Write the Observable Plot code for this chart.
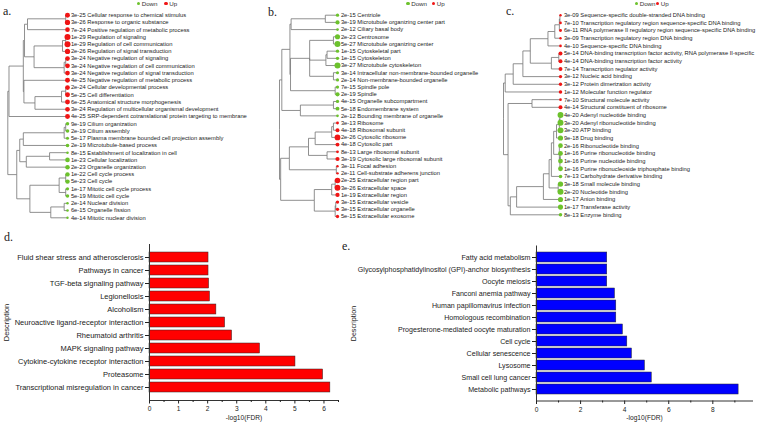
<!DOCTYPE html>
<html><head><meta charset="utf-8">
<script src="https://cdn.jsdelivr.net/npm/d3@7"></script>
<script src="https://cdn.jsdelivr.net/npm/@observablehq/plot@0.6"></script>
<style>
body{margin:0;background:#fff;}
#root{position:relative;width:758px;height:424px;overflow:hidden;background:#fff;font-family:"Liberation Sans",Arial,sans-serif;}
.panel{position:absolute;}
.plabel{position:absolute;font-family:"Liberation Serif","Times New Roman",serif;font-size:12px;line-height:12px;color:#222;}
.lg{position:absolute;font-size:6.2px;line-height:7px;color:#333;white-space:nowrap;}
.ld{position:absolute;width:3.4px;height:3.4px;border-radius:50%;}
</style></head><body><div id="root"></div>
<script>
// ---------------- DATA ----------------
const aTerms = ["Cellular response to chemical stimulus","Response to organic substance","Positive regulation of metabolic process","Regulation of signaling","Regulation of cell communication","Regulation of signal transduction","Negative regulation of signaling","Negative regulation of cell communication","Negative regulation of signal transduction","Negative regulation of metabolic process","Cellular developmental process","Cell differentiation","Anatomical structure morphogenesis","Regulation of multicellular organismal development","SRP-dependent cotranslational protein targeting to membrane","Cilium organization","Cilium assembly","Plasma membrane bounded cell projection assembly","Microtubule-based process","Establishment of localization in cell","Cellular localization","Organelle organization","Cell cycle process","Cell cycle","Mitotic cell cycle process","Mitotic cell cycle","Nuclear division","Organelle fission","Mitotic nuclear division"];
const aP = ["3e-25","3e-26","7e-24","1e-29","1e-29","2e-26","3e-24","3e-24","3e-24","4e-25","2e-24","5e-25","6e-25","3e-24","4e-25","9e-19","2e-19","5e-17","2e-19","8e-15","1e-23","2e-23","1e-22","5e-23","1e-17","5e-19","2e-14","6e-15","4e-14"];
const aDir = ["Up","Up","Up","Up","Up","Up","Up","Up","Up","Up","Up","Up","Up","Up","Up","Down","Down","Down","Down","Down","Down","Down","Down","Down","Down","Down","Down","Down","Down"];
// tree: [mergeHeight, child, child...]; a number is a leaf index
const aTree = [1.0,
  [0.98,
    [0.74,
      [0.72, [0.67, [0.03, 0, 1], 2], [0.56, [0.084, [0.03, 3, 4], 5], [0.056, [0.03, 6, 7], 8]]],
      [0.73, 9, [0.545, [0.1, [0.03, 10, 11], 12], 13]]],
    14],
  [0.85,
    [0.8, [0.74, [0.056, [0.03, 15, 16], 17], 18], [0.69, [0.3, 19, 20], 21]],
    [0.63, [0.14, [0.03, 22, 23], [0.03, 24, 25]], [0.28, [0.056, 26, 27], 28]]]];

const bTerms = ["Centriole","Microtubule organizing center part","Ciliary basal body","Centrosome","Microtubule organizing center","Cytoskeletal part","Cytoskeleton","Microtubule cytoskeleton","Intracellular non-membrane-bounded organelle","Non-membrane-bounded organelle","Spindle pole","Spindle","Organelle subcompartment","Endomembrane system","Bounding membrane of organelle","Ribosome","Ribosomal subunit","Cytosolic ribosome","Cytosolic part","Large ribosomal subunit","Cytosolic large ribosomal subunit","Focal adhesion","Cell-substrate adherens junction","Extracellular region part","Extracellular space","Extracellular region","Extracellular vesicle","Extracellular organelle","Extracellular exosome"];
const bP = ["2e-15","3e-19","2e-12","2e-23","5e-27","1e-15","1e-15","3e-27","3e-14","2e-14","7e-15","2e-19","4e-15","5e-18","2e-12","3e-13","4e-18","2e-26","4e-18","8e-13","3e-19","3e-11","2e-11","2e-25","3e-26","1e-19","3e-15","3e-15","5e-15"];
const bDir = ["Down","Down","Down","Down","Down","Down","Down","Down","Down","Down","Down","Down","Down","Down","Down","Up","Up","Up","Up","Up","Up","Up","Up","Up","Up","Up","Up","Up","Up"];
const bTree = [1.0,
  [0.96,
    [0.82, [0.8, [0.21, 0, 1], 2], [0.81, [0.48, [0.07, 3, 4], [0.2, [0.18, 5, 6], 7], [0.07, 8, 9]], [0.04, 10, 11]]],
    [0.64, [0.07, 12, 13], 14]],
  [0.98,
    [0.83, [0.5, [0.385, [0.1, [0.07, 15, 16], 17], 18], [0.18, 19, 20]], [0.02, 21, 22]],
    [0.4, [0.1, [0.04, 23, 24], 25], [0.04, [0.03, 26, 27], 28]]]];

const cTerms = ["Sequence-specific double-stranded DNA binding","Transcription regulatory region sequence-specific DNA binding","RNA polymerase II regulatory region sequence-specific DNA binding","Transcription regulatory region DNA binding","Sequence-specific DNA binding","DNA-binding transcription factor activity, RNA polymerase II-specific","DNA-binding transcription factor activity","Transcription regulator activity","Nucleic acid binding","Protein dimerization activity","Molecular function regulator","Structural molecule activity","Structural constituent of ribosome","Adenyl nucleotide binding","Adenyl ribonucleotide binding","ATP binding","Drug binding","Ribonucleotide binding","Purine ribonucleotide binding","Purine nucleotide binding","Purine ribonucleoside triphosphate binding","Carbohydrate derivative binding","Small molecule binding","Nucleotide binding","Anion binding","Transferase activity","Enzyme binding"];
const cP = ["3e-09","7e-10","6e-11","3e-09","4e-10","5e-14","4e-14","7e-14","3e-12","3e-12","1e-12","7e-10","4e-14","4e-20","3e-20","3e-20","9e-18","2e-16","1e-16","1e-16","1e-16","7e-13","3e-18","2e-20","1e-17","1e-17","8e-13"];
const cDir = ["Up","Up","Up","Up","Up","Up","Up","Up","Up","Up","Up","Up","Up","Down","Down","Down","Down","Down","Down","Down","Down","Down","Down","Down","Down","Down","Down"];
const cTree = [1.0,
  [0.97, [0.83, [0.66, [0.53, [0.22, [0.1, [0.02, [0.01, 0, 1], 2], 3], 4], [0.16, [0.03, 5, 6], 7]], 8], 9], 10],
  [0.92, [0.5, 11, 12],
    [0.88, [0.77, [0.3, [0.2, [0.16, [0.12, [0.07, [0.02, [0.01, 13, 14], 15], 16], [0.02, 17, [0.01, [0.005, 18, 19], 20]]], 21], [0.04, 22, 23]], 24], 25], 26]]];

const dNames = ["Fluid shear stress and atherosclerosis","Pathways in cancer","TGF-beta signaling pathway","Legionellosis","Alcoholism","Neuroactive ligand-receptor interaction","Rheumatoid arthritis","MAPK signaling pathway","Cytokine-cytokine receptor interaction","Proteasome","Transcriptional misregulation in cancer"];
const dValues = [2.03, 2.03, 2.05, 2.08, 2.30, 2.60, 2.84, 3.80, 5.02, 5.97, 6.22];
const dTicks = [0, 1, 2, 3, 4, 5, 6];
const dMinor = [0.5, 1.5, 2.5, 3.5, 4.5, 5.5, 6.5];

const eNames = ["Fatty acid metabolism","Glycosylphosphatidylinositol (GPI)-anchor biosynthesis","Oocyte meiosis","Fanconi anemia pathway","Human papillomavirus infection","Homologous recombination","Progesterone-mediated oocyte maturation","Cell cycle","Cellular senescence","Lysosome","Small cell lung cancer","Metabolic pathways"];
const eValues = [3.21, 3.21, 3.21, 3.56, 3.62, 3.62, 3.92, 4.12, 4.33, 4.92, 5.23, 9.17];
const eTicks = [0, 2, 4, 6, 8];
const eMinor = [1, 3, 5, 7, 9];

const dirLabels = ["Down", "Up"];
// ---------------- RENDER ----------------
const GREEN = "#6cc22c", RED = "#f01515";
const FONT = "'Liberation Sans', Arial, sans-serif";
const root = document.getElementById("root");

function place(node, left, top) {
  const d = document.createElement("div");
  d.className = "panel"; d.style.left = left + "px"; d.style.top = top + "px";
  d.appendChild(node); root.appendChild(d);
}
function label(txt, left, top) {
  const d = document.createElement("div");
  d.className = "plabel"; d.textContent = txt;
  d.style.left = left + "px"; d.style.top = top + "px"; root.appendChild(d);
}
function legend(gx, rx, cy) {
  [[gx, GREEN, dirLabels[0]], [rx, RED, dirLabels[1]]].forEach(([x, c, t]) => {
    const dot = document.createElement("div"); dot.className = "ld";
    dot.style.background = c; dot.style.left = (x - 1.7) + "px"; dot.style.top = (cy - 1.7) + "px";
    root.appendChild(dot);
    const s = document.createElement("div"); s.className = "lg"; s.textContent = t;
    s.style.left = (x + 3.2) + "px"; s.style.top = (cy - 3.5) + "px";
    root.appendChild(s);
  });
}

function layoutTree(tree) {
  const links = [];
  (function walk(node) {
    if (typeof node === "number") return {h: 0, y: node};
    const [h, ...kids] = node;
    const ks = kids.map(walk);
    const y = (ks[0].y + ks[ks.length - 1].y) / 2;
    for (const k of ks) links.push({x1: h, y1: y, x2: k.h, y2: k.y});
    return {h, y};
  })(tree);
  return links;
}

function treePlot(terms, p, dir, tree, width, height, xRange, yRange) {
  const leaves = terms.map((t, i) => ({i, h: 0, label: p[i] + " " + t, dir: dir[i], lp: -Math.log10(+p[i])}));
  const links = layoutTree(tree);
  return Plot.plot({
    width, height, margin: 0,
    x: {domain: [1, 0], range: xRange, axis: null},
    y: {domain: [0, terms.length - 1], range: yRange, axis: null},
    r: {type: "linear", domain: d3.extent(leaves, d => d.lp), range: [1.2, 3.0]},
    color: {domain: dirLabels, range: [GREEN, RED]},
    style: {fontFamily: FONT, fontSize: "5.8px", background: "transparent", overflow: "visible"},
    marks: [
      Plot.link(links, {x1: "x1", y1: "y1", x2: "x2", y2: "y2", curve: "step-before", stroke: "#737373", strokeWidth: 0.8}),
      Plot.dot(leaves, {x: "h", y: "i", r: "lp", fill: "dir"}),
      Plot.text(leaves, {x: "h", y: "i", text: "label", textAnchor: "start", dx: 3.4, fill: "#222", fontSize: 5.8})
    ]
  });
}

function barPlot(names, values, fill, o) {
  const rows = names.map((n, i) => ({name: n, v: values[i]}));
  return Plot.plot({
    width: o.width, height: o.height,
    marginLeft: o.ml, marginRight: o.mr, marginTop: o.mt, marginBottom: o.mb,
    x: {domain: [0, o.xMax]},
    y: {domain: names, padding: 0.2},
    style: {fontFamily: FONT, fontSize: o.fs + "px", color: "#222", background: "transparent"},
    marks: [
      Plot.barX(rows, {x: "v", y: "name", fill, stroke: "#2a2a2a", strokeWidth: 0.5}),
      Plot.frame({anchor: "bottom", stroke: "#333"}),
      Plot.frame({anchor: "left", stroke: "#333"}),
      Plot.axisY({tickSize: 4, tickPadding: 2, fontSize: o.fs, label: "Description", labelAnchor: "center", labelOffset: o.yOff}),
      Plot.axisX({ticks: o.ticks, tickSize: 3.5, tickPadding: 2.5, fontSize: 6.6, tickFormat: d => String(d), label: "-log10(FDR)", labelAnchor: "center", labelOffset: 19, labelArrow: "none"}),
      Plot.axisX({ticks: o.minor, tickSize: 2, tickFormat: () => "", label: null})
    ]
  });
}

place(treePlot(aTerms, aP, aDir, aTree, 250, 224, [7.3, 67], [14.7, 217.3]), 0, 0);
place(treePlot(bTerms, bP, bDir, bTree, 250, 224, [29, 87], [14.7, 216]), 250, 0);
place(treePlot(cTerms, cP, cDir, cTree, 258, 224, [3, 60], [14.7, 214.3]), 500, 0);

place(barPlot(dNames, dValues, "#ff0000", {width: 345, height: 189, ml: 149, mr: 7, mt: 9, mb: 24, xMax: 6.5, ticks: dTicks, minor: dMinor, yOff: 146, fs: 7.5}), 0, 235);
place(barPlot(eNames, eValues, "#0000ff", {width: 413, height: 189, ml: 191, mr: 6, mt: 10.5, mb: 23.5, xMax: 9.8, ticks: eTicks, minor: eMinor, yOff: 186, fs: 7.1}), 345, 235);

legend(138.5, 166, 3.5);
legend(408, 433.5, 3.5);
legend(636.5, 657.5, 3.5);

label("a.", 3, 5);
label("b.", 268, 5.5);
label("c.", 506, 5);
label("d.", 4, 230.5);
label("e.", 342, 240);
</script></body></html>
